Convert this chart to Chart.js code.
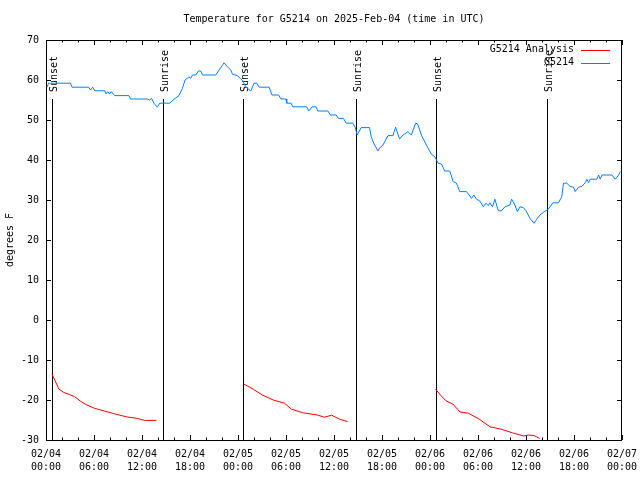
<!DOCTYPE html>
<html>
<head>
<meta charset="utf-8">
<script src="https://cdn.jsdelivr.net/npm/chart.js@4.4.1/dist/chart.umd.min.js"></script>
<style>
  html, body { margin: 0; padding: 0; background: #fff; }
</style>
</head>
<body>
<canvas id="tempChart" width="640" height="480"></canvas>
<script>
// hours since 02/04 00:00 UTC
const obsHours = [0.13, 0.33, 3.05, 3.26, 5.34, 5.55, 5.84, 6.09, 7.35, 7.52, 7.72, 7.94, 8.15, 8.4, 8.6,
  10.36, 10.57, 12.66, 12.95, 13.2, 13.49, 13.92, 14.2, 15.46, 16.0, 16.62, 17.05, 17.38, 17.88, 18.09,
  18.3, 18.72, 19.05, 19.34, 19.56, 21.22, 21.64, 22.26, 22.69, 23.1, 23.32, 23.94, 24.36, 24.6, 24.97,
  25.2, 25.6, 26.0, 26.36, 26.65, 27.9, 28.24, 29.08, 29.37, 30.0, 30.09, 30.63, 30.84, 32.59, 32.85,
  33.26, 33.76, 33.97, 35.23, 35.55, 36.27, 36.56, 37.18, 37.52, 38.36, 38.65, 38.9, 39.4, 40.44, 40.65,
  41.07, 41.5, 41.7, 42.12, 42.75, 43.37, 43.7, 44.2, 44.63, 45.25, 45.67, 46.2, 46.46, 46.92, 47.55,
  48.18, 48.6, 49.02, 49.43, 49.84, 50.47, 50.9, 51.31, 51.72, 52.56, 52.98, 53.19, 53.48, 53.82, 54.23,
  54.66, 54.98, 55.28, 55.48, 55.82, 56.11, 56.54, 56.95, 57.36, 57.99, 58.2, 58.62, 58.92, 59.25, 59.67,
  60.0, 60.5, 61.0, 61.34, 61.75, 62.38, 62.68, 63.09, 63.35, 64.06, 64.47, 64.69, 65.1, 65.51, 65.94,
  66.14, 66.57, 66.98, 67.4, 67.61, 67.82, 68.02, 68.86, 69.07, 69.28, 69.49, 70.74, 71.16, 71.58, 71.78];
const obsTemps = [58.2, 59.2, 59.2, 58.2, 58.2, 57.5, 58.2, 57.3, 57.3, 56.5, 57.1, 56.5, 57.1, 56.5, 56.1,
  56.1, 55.25, 55.25, 55.0, 55.4, 54.2, 53.2, 54.2, 54.2, 55.2, 56.1, 57.9, 60, 60.8, 60.4,
  61.25, 61.25, 62.25, 62.25, 61.25, 61.25, 62.5, 64.3, 63.3, 62.5, 61.4, 61.1, 60.2, 59.8, 58.3,
  57.9, 57.25, 59.2, 59.2, 58.2, 58.2, 56.25, 56.25, 55.25, 55.25, 54.2, 54.2, 53.3, 53.3, 52.25,
  53.3, 53.3, 52.25, 52.25, 51.25, 51.25, 50.4, 50.4, 49.2, 49.2, 48.2, 46.25, 48.1, 48.1, 45.8,
  43.75, 42.25, 43.0, 43.75, 46.1, 46.1, 48.2, 45.25, 46.25, 47.1, 46.25, 49.2, 49.0, 46.25, 43.75,
  41.4, 40.8, 39.2, 39.0, 37.25, 37.25, 34.6, 34.2, 32.1, 32.1, 31.0, 30.4, 31.25, 30.2, 29.75,
  28.3, 29.2, 28.6, 29.3, 28.3, 30.2, 27.3, 27.3, 28.3, 28.75, 30.2, 28.75, 27.1, 28.3, 28.1,
  27.3, 25.4, 24.2, 25.2, 26.25, 27.25, 27.5, 28.5, 29.3, 29.3, 30.8, 34.2, 34.2, 33.4, 33.2,
  32.1, 33.2, 33.4, 34.3, 35.2, 34.3, 35.2, 35.2, 36.25, 35.2, 36.25, 36.25, 35.2, 36.25, 37.1];

// null = gap between the three analysis runs
const analysisHours = [0.74, 1.61, 2.2, 2.9, 3.6, 4.27, 4.96, 6.1, 7.27, 8.65, 10.03, 11.4, 12.3, 13.8,
  19,
  24.73, 25.9, 27.04, 28.4, 29.8, 30.7, 32.1, 33.9, 34.8, 35.7, 36.7, 37.7,
  43,
  48.7, 49.3, 50.0, 50.85, 51.76, 52.8, 54.15, 55.5, 56.9, 58.3, 59.67, 60.35, 61.0, 61.7];
const analysisTemps = [-13.5, -17.25, -18.1, -18.6, -19.2, -20.25, -21.1, -22.1, -22.75, -23.5, -24.2, -24.6, -25.1, -25.1,
  null,
  -16, -17.3, -18.75, -20, -20.8, -22.3, -23.2, -23.75, -24.3, -23.8, -24.8, -25.4,
  null,
  -17.3, -18.75, -20.2, -21, -23.0, -23.3, -24.8, -26.7, -27.3, -28.2, -29, -28.75, -28.9, -29.6];

const sunHours  = [0.70, 14.62, 24.65, 38.69, 48.72, 62.63];
const sunLabels = ['Sunset', 'Sunrise', 'Sunset', 'Sunrise', 'Sunset', 'Sunrise'];

const dayLabels = ['02/04', '02/05', '02/06', '02/07'];
const titleText = 'Temperature for G5214 on 2025-Feb-04 (time in UTC)';
const yTitle = 'degrees F';

const FONT = '10px "DejaVu Sans Mono", "Liberation Mono", monospace';
Chart.defaults.font.family = '"DejaVu Sans Mono", "Liberation Mono", monospace';
Chart.defaults.font.size = 10;
Chart.defaults.color = '#000';

function pts(xs, ys) {
  return xs.map((h, i) => ({ x: h, y: ys[i] }));
}

function seg(ctx, x1, y1, x2, y2) {
  ctx.beginPath();
  ctx.moveTo(x1, y1);
  ctx.lineTo(x2, y2);
  ctx.stroke();
}

const gnuFrame = {
  id: 'gnuFrame',
  beforeDatasetsDraw(chart) {
    const { ctx, chartArea: a, scales: { x, y } } = chart;
    ctx.save();
    ctx.strokeStyle = '#000';
    ctx.lineWidth = 1;
    ctx.strokeRect(a.left + 0.5, a.top + 0.5, a.right - a.left - 1, a.bottom - a.top);

    // x tics (major 6h, minor 2h), mirrored on top
    for (let h = 0; h <= 72; h += 2) {
      const px = Math.round(x.getPixelForValue(h)) + 0.5;
      const len = h % 6 === 0 ? 5 : 2.5;
      seg(ctx, px, a.bottom, px, a.bottom - len);
      seg(ctx, px, a.top, px, a.top + len);
    }
    // y tics, mirrored on right
    for (let t = -30; t <= 70; t += 10) {
      const py = Math.round(y.getPixelForValue(t)) + 0.5;
      seg(ctx, a.left, py, a.left + 5, py);
      seg(ctx, a.right, py, a.right - 5, py);
    }

    // sunrise / sunset markers
    ctx.font = FONT;
    ctx.fillStyle = '#000';
    sunHours.forEach((h, i) => {
      const px = Math.round(x.getPixelForValue(h)) + 0.5;
      seg(ctx, px, a.top + 59, px, a.bottom);
      ctx.save();
      ctx.translate(px + 4.5, a.top + 52);
      ctx.rotate(-Math.PI / 2);
      ctx.textAlign = 'left';
      ctx.textBaseline = 'alphabetic';
      ctx.fillText(sunLabels[i], 0, 0);
      ctx.restore();
    });
    ctx.restore();
  },
  afterDraw(chart) {
    const { ctx, chartArea: a } = chart;
    ctx.save();
    ctx.font = FONT;
    ctx.fillStyle = '#000';
    ctx.textBaseline = 'middle';
    ctx.textAlign = 'center';
    ctx.fillText(titleText, (a.left + a.right) / 2, 19);

    // key: text then line sample
    ctx.textAlign = 'right';
    chart.data.datasets.forEach((ds, i) => {
      const yy = 49.5 + i * 13;
      ctx.fillStyle = '#000';
      ctx.fillText(ds.label, 574, yy);
      ctx.strokeStyle = ds.borderColor;
      ctx.lineWidth = 1;
      seg(ctx, 581, Math.round(yy) + 0.5, 610, Math.round(yy) + 0.5);
    });
    ctx.restore();
  }
};

new Chart(document.getElementById('tempChart'), {
  type: 'line',
  data: {
    datasets: [
      {
        label: 'G5214 Analysis',
        data: pts(analysisHours, analysisTemps),
        borderColor: '#ff0000',
        borderWidth: 1,
        pointRadius: 0,
        tension: 0,
        spanGaps: false
      },
      {
        label: 'G5214',
        data: pts(obsHours, obsTemps),
        borderColor: '#0080ff',
        borderWidth: 1,
        pointRadius: 0,
        tension: 0
      }
    ]
  },
  options: {
    responsive: false,
    animation: false,
    layout: { padding: { top: 40, right: 18, left: 0, bottom: 0 } },
    plugins: {
      legend: { display: false },
      tooltip: { enabled: false }
    },
    scales: {
      x: {
        type: 'linear',
        min: 0,
        max: 72,
        grid: { display: false, drawTicks: false },
        border: { display: false },
        ticks: {
          stepSize: 6,
          padding: 8,
          maxRotation: 0,
          autoSkip: false,
          font: { size: 10, lineHeight: 1.3 },
          callback: (v) => {
            const day = Math.floor(v / 24);
            const hr = v % 24;
            return [dayLabels[day], String(hr).padStart(2, '0') + ':00'];
          }
        },
        afterFit: (s) => { s.height = 40; s.paddingLeft = 0; s.paddingRight = 0; }
      },
      y: {
        min: -30,
        max: 70,
        grid: { display: false, drawTicks: false },
        border: { display: false },
        ticks: { stepSize: 10, padding: 7 },
        title: { display: true, text: yTitle, padding: { top: 4, bottom: 0 } },
        afterFit: (s) => { s.width = 46; s.paddingTop = 0; s.paddingBottom = 0; }
      }
    }
  },
  plugins: [gnuFrame]
});
</script>
</body>
</html>
